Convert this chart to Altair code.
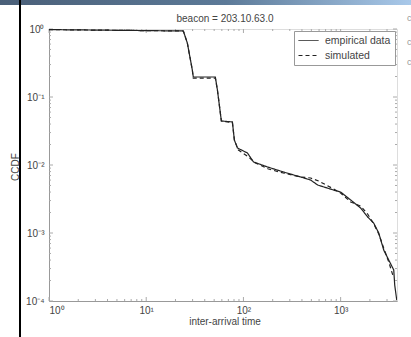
import altair as alt
import pandas as pd

# ---- data ----
emp_x = [1, 24.1, 26.5, 29.8, 30.5, 51.4, 54, 59.3, 77, 80.7, 86.7, 110, 127, 177, 258,
         387, 491, 580, 847, 1000, 1268, 1607, 1897, 2188, 2466, 2776, 3126, 3518, 3600, 3777]
emp_y = [0.98, 0.935, 0.62, 0.25, 0.197, 0.197, 0.127, 0.0444, 0.043, 0.0233, 0.0178, 0.015,
         0.0111, 0.00935, 0.00789, 0.00667, 0.00601, 0.00508, 0.00428, 0.0040, 0.00306,
         0.00233, 0.00172, 0.0014, 0.001, 0.00056, 0.0004, 0.000286, 0.000172, 0.000103]

sim_x = [1, 24.1, 26.5, 29.8, 30.5, 51.4, 54, 59.3, 77, 80.7, 88.8, 112.6, 133, 181, 258,
         387, 491, 593, 847, 1000, 1268, 1607, 1897, 2188, 2466, 2776, 3126, 3436]
sim_y = [0.98, 0.935, 0.62, 0.25, 0.19, 0.19, 0.127, 0.0444, 0.042, 0.0233, 0.0166, 0.0131,
         0.0107, 0.00873, 0.00762, 0.00667, 0.00644, 0.00582, 0.00444, 0.00387, 0.00286,
         0.00249, 0.0019, 0.00136, 0.00097, 0.0006, 0.000375, 0.000241]

series_names = ["empirical data", "simulated"]
x_major = [1, 10, 100, 1000]
x_minor = [2, 3, 4, 5, 6, 7, 8, 9, 20, 30, 40, 50, 60, 70, 80, 90,
           200, 300, 400, 500, 600, 700, 800, 900, 2000, 3000]
y_major = [1, 0.1, 0.01, 0.001, 0.0001]
y_minor = [m * d for d in [0.1, 0.01, 0.001, 0.0001] for m in [2, 3, 4, 5, 6, 7, 8, 9]]

title_text = "beacon = 203.10.63.0"
x_title = "inter-arrival time"
y_title = "CCDF"

W, H = 348, 272

df = pd.concat([
    pd.DataFrame({"x": emp_x, "y": emp_y, "series": series_names[0], "order": range(len(emp_x))}),
    pd.DataFrame({"x": sim_x, "y": sim_y, "series": series_names[1], "order": range(len(sim_x))}),
])

xscale = alt.Scale(type="log", domain=[1, 3800], nice=False)
yscale = alt.Scale(type="log", domain=[0.0001, 1], nice=False)

xlabel = ("datum.value == 1 ? '10⁰' : datum.value == 10 ? '10¹' : "
          "datum.value == 100 ? '10²' : '10³'")
ylabel = ("datum.value > 0.5 ? '10⁰' : datum.value > 0.05 ? '10⁻¹' : "
          "datum.value > 0.005 ? '10⁻²' : datum.value > 0.0005 ? '10⁻³' : '10⁻⁴'")

FONT = "Liberation Sans"
LC = "#444444"

lines = alt.Chart(df).mark_line(color="#222222", strokeWidth=1.2, clip=True).encode(
    x=alt.X("x:Q", scale=xscale,
            axis=alt.Axis(values=x_major, labelExpr=xlabel, ticks=False, grid=False,
                          domainColor="#999999", labelFontSize=10, labelColor=LC, labelFont=FONT,
                          labelPadding=4, title=None)),
    y=alt.Y("y:Q", scale=yscale,
            axis=alt.Axis(values=y_major, labelExpr=ylabel, ticks=False, grid=False,
                          domainColor="#999999", labelFontSize=10, labelColor=LC, labelFont=FONT,
                          labelPadding=5, title=None)),
    strokeDash=alt.StrokeDash("series:N", scale=alt.Scale(domain=series_names, range=[[1, 0], [4, 3]]),
                              legend=alt.Legend(title=None, orient="top-right", offset=2,
                                                strokeColor="#999999", fillColor="white",
                                                padding=4, labelFontSize=10.5, labelFont=FONT,
                                                labelColor=LC, symbolType="M-1,0H3", symbolSize=100,
                                                symbolStrokeColor="#222222", symbolStrokeWidth=1,
                                                rowPadding=4, labelOffset=16)),
    order="order:Q",
)

def xticks(vals, length):
    d = pd.DataFrame({"v": vals})
    b = alt.Chart(d).mark_rule(color="#aaaaaa", strokeWidth=1)
    return (b.encode(x=alt.X("v:Q", scale=xscale), y=alt.value(H), y2=alt.value(H - length)) +
            b.encode(x=alt.X("v:Q", scale=xscale), y=alt.value(0), y2=alt.value(length)))

def yticks(vals, length):
    d = pd.DataFrame({"v": vals})
    b = alt.Chart(d).mark_rule(color="#aaaaaa", strokeWidth=1)
    return (b.encode(y=alt.Y("v:Q", scale=yscale), x=alt.value(0), x2=alt.value(length)) +
            b.encode(y=alt.Y("v:Q", scale=yscale), x=alt.value(W), x2=alt.value(W - length)))

# slide decorations (outside the plot area)
deco_df = pd.DataFrame({"k": [0]})
topbar = alt.Chart(deco_df).mark_rect(
    fill=alt.Gradient(gradient="linear", x1=0, x2=1, y1=0, y2=0,
                      stops=[alt.GradientStop(color="#4a5f78", offset=0),
                             alt.GradientStop(color="#5c7a98", offset=0.55),
                             alt.GradientStop(color="#a9c9ea", offset=1)]),
    clip=False).encode(x=alt.value(-49), x2=alt.value(W + 14), y=alt.value(-29), y2=alt.value(-24))
leftline = alt.Chart(deco_df).mark_rule(color="black", strokeWidth=2, clip=False).encode(
    x=alt.value(-29), y=alt.value(-29), y2=alt.value(H + 36))
title = alt.Chart(deco_df).mark_text(text=title_text, fontSize=10, font=FONT, color=LC,
                                     baseline="middle").encode(x=alt.value(W / 2 + 2), y=alt.value(-10))
xt = alt.Chart(deco_df).mark_text(text=x_title, fontSize=10, font=FONT, color=LC,
                                  baseline="middle").encode(x=alt.value(W / 2 + 2), y=alt.value(H + 21))
yt = alt.Chart(deco_df).mark_text(text=y_title, fontSize=10, font=FONT, color=LC, angle=270,
                                  baseline="middle").encode(x=alt.value(-33), y=alt.value(138))
side = alt.Chart(pd.DataFrame({"k": [0, 1, 2], "yy": [-11, 13, 33]})).mark_text(
    text="c", fontSize=9, font=FONT, color="#999999", align="left", baseline="middle").encode(
    x=alt.value(W + 10), y=alt.Y("yy:Q", scale=None))

chart = alt.layer(
    topbar, leftline,
    xticks(x_minor, 2), xticks(x_major, 4), yticks(y_minor, 2), yticks(y_major, 4),
    lines, title, xt, yt, side,
).properties(
    width=W, height=H, autosize="none",
    padding={"left": 49, "top": 29, "right": 14, "bottom": 36},
).configure_view(stroke="#999999", strokeWidth=1).configure(background="white")

chart.save("out.html", embed_options={"renderer": "svg", "actions": False})
